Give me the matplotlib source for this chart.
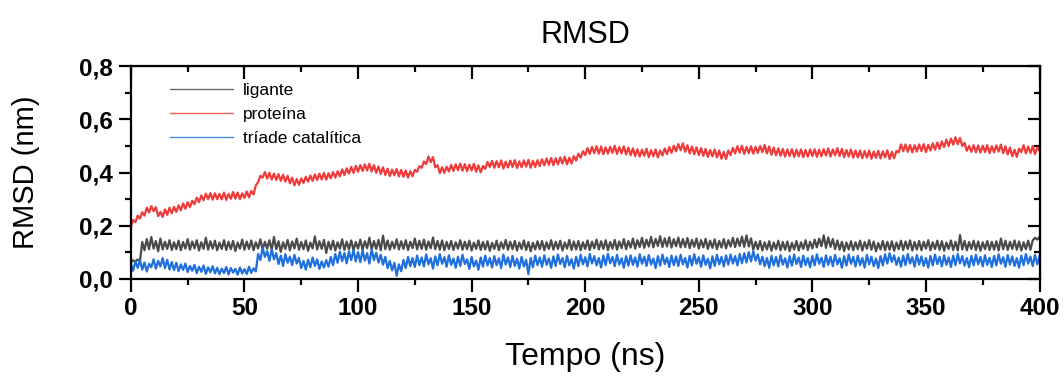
import numpy as np
import matplotlib
matplotlib.use("Agg")
import matplotlib.pyplot as plt
from matplotlib.ticker import MultipleLocator, FuncFormatter

plt.rcParams['font.family'] = ['Liberation Sans', 'DejaVu Sans']

# RMSD (nm), one value per ns (0..400 ns)
ligante = [
    0.062, 0.070, 0.066, 0.073, 0.068, 0.139, 0.108, 0.150, 0.112, 0.158, 0.114, 0.143, 0.104, 0.152, 0.111, 0.140, 0.113, 0.146, 0.109, 0.138,
    0.112, 0.144, 0.108, 0.139, 0.114, 0.150, 0.110, 0.141, 0.115, 0.146, 0.107, 0.138, 0.113, 0.155, 0.110, 0.142, 0.114, 0.144, 0.108, 0.137,
    0.113, 0.146, 0.109, 0.140, 0.112, 0.143, 0.105, 0.137, 0.114, 0.148, 0.110, 0.141, 0.113, 0.145, 0.108, 0.138, 0.115, 0.149, 0.111, 0.140,
    0.114, 0.146, 0.109, 0.158, 0.112, 0.142, 0.102, 0.138, 0.113, 0.147, 0.108, 0.141, 0.115, 0.152, 0.110, 0.139, 0.112, 0.145, 0.106, 0.137,
    0.115, 0.160, 0.111, 0.142, 0.113, 0.147, 0.098, 0.140, 0.111, 0.144, 0.107, 0.138, 0.114, 0.149, 0.109, 0.141, 0.112, 0.145, 0.108, 0.139,
    0.114, 0.148, 0.110, 0.142, 0.116, 0.155, 0.111, 0.143, 0.113, 0.147, 0.108, 0.163, 0.112, 0.145, 0.110, 0.140, 0.115, 0.149, 0.111, 0.142,
    0.113, 0.146, 0.109, 0.140, 0.116, 0.152, 0.111, 0.144, 0.113, 0.148, 0.110, 0.141, 0.115, 0.156, 0.112, 0.143, 0.110, 0.145, 0.108, 0.139,
    0.113, 0.143, 0.109, 0.138, 0.114, 0.146, 0.110, 0.140, 0.112, 0.144, 0.107, 0.137, 0.113, 0.145, 0.109, 0.139, 0.111, 0.142, 0.106, 0.136,
    0.113, 0.144, 0.108, 0.138, 0.114, 0.147, 0.110, 0.140, 0.112, 0.143, 0.107, 0.137, 0.113, 0.145, 0.109, 0.139, 0.104, 0.136, 0.111, 0.142,
    0.112, 0.143, 0.108, 0.138, 0.113, 0.146, 0.110, 0.140, 0.113, 0.144, 0.107, 0.137, 0.114, 0.147, 0.109, 0.141, 0.111, 0.143, 0.108, 0.138,
    0.113, 0.145, 0.109, 0.140, 0.115, 0.148, 0.111, 0.142, 0.113, 0.146, 0.108, 0.139, 0.114, 0.147, 0.110, 0.141, 0.116, 0.150, 0.112, 0.143,
    0.118, 0.152, 0.114, 0.146, 0.120, 0.155, 0.117, 0.148, 0.122, 0.158, 0.119, 0.151, 0.124, 0.161, 0.120, 0.153, 0.122, 0.157, 0.118, 0.150,
    0.123, 0.156, 0.119, 0.150, 0.120, 0.154, 0.116, 0.147, 0.121, 0.152, 0.114, 0.146, 0.119, 0.151, 0.113, 0.144, 0.117, 0.149, 0.112, 0.143,
    0.118, 0.150, 0.115, 0.146, 0.122, 0.155, 0.120, 0.152, 0.124, 0.159, 0.121, 0.164, 0.122, 0.153, 0.110, 0.140, 0.112, 0.143, 0.107, 0.138,
    0.111, 0.142, 0.106, 0.137, 0.112, 0.144, 0.108, 0.139, 0.110, 0.141, 0.105, 0.136, 0.111, 0.143, 0.107, 0.138, 0.113, 0.146, 0.109, 0.140,
    0.115, 0.148, 0.119, 0.152, 0.123, 0.164, 0.117, 0.156, 0.121, 0.150, 0.112, 0.145, 0.110, 0.140, 0.105, 0.137, 0.111, 0.142, 0.108, 0.138,
    0.112, 0.144, 0.107, 0.139, 0.114, 0.146, 0.110, 0.141, 0.104, 0.135, 0.111, 0.143, 0.108, 0.140, 0.110, 0.142, 0.106, 0.137, 0.112, 0.144,
    0.109, 0.141, 0.113, 0.145, 0.107, 0.139, 0.111, 0.143, 0.108, 0.140, 0.114, 0.146, 0.108, 0.138, 0.112, 0.144, 0.109, 0.142, 0.106, 0.137,
    0.113, 0.145, 0.109, 0.140, 0.107, 0.165, 0.111, 0.143, 0.108, 0.139, 0.113, 0.144, 0.109, 0.141, 0.106, 0.138, 0.112, 0.143, 0.109, 0.140,
    0.110, 0.142, 0.107, 0.152, 0.112, 0.144, 0.109, 0.140, 0.113, 0.145, 0.110, 0.141, 0.107, 0.138, 0.112, 0.144, 0.110, 0.145, 0.155, 0.148,
    0.158,
]

proteina = [
    0.196, 0.222, 0.214, 0.238, 0.227, 0.251, 0.238, 0.268, 0.250, 0.274, 0.255, 0.270, 0.236, 0.252, 0.233, 0.262, 0.241, 0.268, 0.247, 0.271,
    0.252, 0.277, 0.258, 0.284, 0.264, 0.289, 0.270, 0.294, 0.281, 0.306, 0.289, 0.314, 0.296, 0.321, 0.300, 0.323, 0.298, 0.322, 0.300, 0.320,
    0.299, 0.325, 0.297, 0.320, 0.301, 0.327, 0.302, 0.325, 0.300, 0.322, 0.305, 0.329, 0.307, 0.331, 0.318, 0.352, 0.364, 0.388, 0.381, 0.402,
    0.377, 0.399, 0.374, 0.396, 0.372, 0.394, 0.369, 0.392, 0.366, 0.388, 0.360, 0.381, 0.352, 0.376, 0.354, 0.378, 0.361, 0.384, 0.366, 0.389,
    0.369, 0.393, 0.372, 0.396, 0.374, 0.399, 0.373, 0.398, 0.378, 0.402, 0.381, 0.405, 0.386, 0.412, 0.391, 0.416, 0.396, 0.421, 0.399, 0.425,
    0.403, 0.428, 0.406, 0.431, 0.408, 0.433, 0.404, 0.428, 0.399, 0.423, 0.395, 0.420, 0.391, 0.415, 0.387, 0.411, 0.390, 0.414, 0.386, 0.410,
    0.384, 0.408, 0.381, 0.405, 0.386, 0.410, 0.403, 0.424, 0.418, 0.442, 0.432, 0.460, 0.439, 0.458, 0.420, 0.428, 0.398, 0.420, 0.399, 0.422,
    0.404, 0.429, 0.406, 0.431, 0.409, 0.434, 0.407, 0.432, 0.405, 0.430, 0.408, 0.433, 0.403, 0.427, 0.401, 0.425, 0.414, 0.440, 0.421, 0.444,
    0.418, 0.443, 0.420, 0.446, 0.415, 0.441, 0.419, 0.445, 0.421, 0.447, 0.417, 0.442, 0.420, 0.446, 0.422, 0.448, 0.418, 0.444, 0.421, 0.447,
    0.424, 0.450, 0.427, 0.453, 0.429, 0.455, 0.428, 0.454, 0.431, 0.457, 0.434, 0.460, 0.431, 0.456, 0.434, 0.462, 0.445, 0.471, 0.456, 0.480,
    0.466, 0.492, 0.470, 0.497, 0.473, 0.499, 0.471, 0.498, 0.469, 0.495, 0.471, 0.497, 0.474, 0.501, 0.470, 0.496, 0.472, 0.499, 0.468, 0.494,
    0.465, 0.491, 0.462, 0.488, 0.460, 0.486, 0.463, 0.490, 0.458, 0.484, 0.461, 0.487, 0.457, 0.483, 0.464, 0.491, 0.469, 0.496, 0.474, 0.501,
    0.480, 0.507, 0.484, 0.510, 0.478, 0.503, 0.472, 0.498, 0.469, 0.495, 0.466, 0.492, 0.463, 0.489, 0.459, 0.485, 0.461, 0.487, 0.457, 0.483,
    0.452, 0.478, 0.451, 0.483, 0.466, 0.493, 0.472, 0.499, 0.475, 0.501, 0.470, 0.497, 0.473, 0.499, 0.471, 0.497, 0.474, 0.500, 0.477, 0.504,
    0.472, 0.498, 0.467, 0.494, 0.465, 0.491, 0.463, 0.489, 0.460, 0.487, 0.462, 0.488, 0.459, 0.486, 0.461, 0.487, 0.458, 0.485, 0.460, 0.487,
    0.462, 0.488, 0.459, 0.486, 0.461, 0.488, 0.464, 0.491, 0.460, 0.487, 0.465, 0.492, 0.462, 0.489, 0.458, 0.485, 0.460, 0.487, 0.456, 0.483,
    0.457, 0.483, 0.454, 0.481, 0.456, 0.483, 0.452, 0.479, 0.455, 0.482, 0.453, 0.480, 0.457, 0.484, 0.451, 0.478, 0.454, 0.481, 0.476, 0.506,
    0.480, 0.506, 0.478, 0.504, 0.476, 0.503, 0.479, 0.506, 0.481, 0.507, 0.477, 0.504, 0.483, 0.510, 0.486, 0.513, 0.489, 0.517, 0.496, 0.524,
    0.500, 0.528, 0.505, 0.533, 0.507, 0.530, 0.500, 0.512, 0.482, 0.500, 0.478, 0.503, 0.476, 0.502, 0.475, 0.501, 0.477, 0.503, 0.473, 0.499,
    0.476, 0.502, 0.479, 0.505, 0.473, 0.499, 0.468, 0.494, 0.461, 0.486, 0.459, 0.490, 0.477, 0.503, 0.472, 0.498, 0.474, 0.500, 0.469, 0.495,
    0.482,
]

triade = [
    0.058, 0.031, 0.066, 0.042, 0.071, 0.035, 0.062, 0.028, 0.057, 0.044, 0.074, 0.039, 0.068, 0.047, 0.079, 0.041, 0.072, 0.036, 0.064, 0.033,
    0.061, 0.029, 0.055, 0.034, 0.058, 0.026, 0.049, 0.031, 0.053, 0.022, 0.046, 0.027, 0.051, 0.019, 0.044, 0.025, 0.048, 0.021, 0.042, 0.018,
    0.039, 0.022, 0.045, 0.017, 0.041, 0.024, 0.038, 0.016, 0.043, 0.021, 0.037, 0.019, 0.046, 0.023, 0.040, 0.028, 0.094, 0.071, 0.118, 0.083,
    0.105, 0.068, 0.112, 0.074, 0.097, 0.056, 0.088, 0.049, 0.093, 0.061, 0.084, 0.052, 0.091, 0.058, 0.079, 0.041, 0.068, 0.035, 0.072, 0.044,
    0.081, 0.049, 0.074, 0.038, 0.066, 0.043, 0.071, 0.046, 0.083, 0.052, 0.094, 0.061, 0.102, 0.067, 0.098, 0.059, 0.104, 0.071, 0.109, 0.066,
    0.101, 0.063, 0.108, 0.069, 0.097, 0.058, 0.112, 0.071, 0.099, 0.062, 0.091, 0.054, 0.083, 0.041, 0.068, 0.032, 0.061, 0.012, 0.055, 0.029,
    0.072, 0.041, 0.083, 0.048, 0.079, 0.045, 0.088, 0.052, 0.081, 0.047, 0.092, 0.055, 0.078, 0.039, 0.085, 0.051, 0.094, 0.057, 0.082, 0.046,
    0.089, 0.053, 0.077, 0.042, 0.084, 0.049, 0.091, 0.056, 0.074, 0.038, 0.083, 0.047, 0.069, 0.035, 0.081, 0.046, 0.088, 0.051, 0.079, 0.043,
    0.086, 0.052, 0.078, 0.041, 0.092, 0.054, 0.081, 0.045, 0.087, 0.049, 0.076, 0.039, 0.083, 0.047, 0.072, 0.018, 0.079, 0.044, 0.088, 0.052,
    0.081, 0.046, 0.089, 0.053, 0.077, 0.042, 0.085, 0.049, 0.092, 0.056, 0.079, 0.044, 0.087, 0.051, 0.075, 0.039, 0.084, 0.048, 0.091, 0.055,
    0.082, 0.047, 0.094, 0.058, 0.086, 0.051, 0.079, 0.043, 0.088, 0.052, 0.095, 0.059, 0.083, 0.048, 0.091, 0.054, 0.078, 0.042, 0.086, 0.050,
    0.089, 0.053, 0.081, 0.046, 0.093, 0.057, 0.084, 0.049, 0.090, 0.054, 0.077, 0.041, 0.086, 0.050, 0.092, 0.056, 0.080, 0.045, 0.088, 0.052,
    0.085, 0.049, 0.091, 0.055, 0.079, 0.043, 0.087, 0.051, 0.093, 0.057, 0.082, 0.046, 0.089, 0.053, 0.076, 0.040, 0.085, 0.049, 0.091, 0.055,
    0.083, 0.047, 0.089, 0.054, 0.092, 0.058, 0.086, 0.051, 0.094, 0.059, 0.097, 0.062, 0.101, 0.066, 0.104, 0.069, 0.092, 0.055, 0.084, 0.048,
    0.079, 0.042, 0.087, 0.051, 0.083, 0.047, 0.090, 0.054, 0.078, 0.043, 0.086, 0.050, 0.092, 0.056, 0.081, 0.045, 0.088, 0.052, 0.079, 0.044,
    0.087, 0.051, 0.093, 0.057, 0.080, 0.045, 0.089, 0.053, 0.084, 0.048, 0.091, 0.055, 0.078, 0.042, 0.086, 0.050, 0.092, 0.057, 0.083, 0.047,
    0.088, 0.052, 0.079, 0.043, 0.090, 0.055, 0.084, 0.048, 0.077, 0.041, 0.086, 0.051, 0.093, 0.058, 0.097, 0.064, 0.089, 0.053, 0.081, 0.046,
    0.088, 0.052, 0.094, 0.058, 0.082, 0.046, 0.090, 0.054, 0.085, 0.049, 0.079, 0.043, 0.087, 0.051, 0.092, 0.056, 0.083, 0.047, 0.089, 0.053,
    0.081, 0.045, 0.088, 0.052, 0.094, 0.058, 0.086, 0.050, 0.079, 0.044, 0.087, 0.051, 0.091, 0.055, 0.083, 0.047, 0.089, 0.053, 0.080, 0.045,
    0.087, 0.051, 0.093, 0.057, 0.082, 0.046, 0.090, 0.054, 0.085, 0.049, 0.078, 0.043, 0.088, 0.052, 0.094, 0.058, 0.084, 0.048, 0.091, 0.055,
    0.086,
]

series = [
    ("ligante", ligante, "#4a4a4a"),
    ("proteína", proteina, "#ef3b3b"),
    ("tríade catalítica", triade, "#1f6fdc"),
]

fig = plt.figure(figsize=(10.64, 3.76), dpi=100)
ax = fig.add_axes([0.123, 0.258, 0.854, 0.566])

for name, vals, color in series:
    t = np.arange(len(vals))  # 1 ns per sample
    ax.plot(t, vals, color=color, lw=1.6, label=name)

ax.set_xlim(0, 400)
ax.set_ylim(0, 0.8)
ax.xaxis.set_major_locator(MultipleLocator(50))
ax.xaxis.set_minor_locator(MultipleLocator(25))
ax.yaxis.set_major_locator(MultipleLocator(0.2))
ax.yaxis.set_minor_locator(MultipleLocator(0.1))
ax.yaxis.set_major_formatter(FuncFormatter(lambda v, p: f"{v:.1f}".replace(".", ",")))

for s in ax.spines.values():
    s.set_linewidth(1.6)
ax.tick_params(which="major", direction="out", length=9, width=1.6, labelsize=17.5, pad=4)
ax.tick_params(which="minor", direction="out", length=4.5, width=1.6)
for lab in ax.get_xticklabels() + ax.get_yticklabels():
    lab.set_fontweight("bold")

# mirrored inward ticks on top and right
top = ax.secondary_xaxis("top")
top.xaxis.set_major_locator(MultipleLocator(50))
top.xaxis.set_minor_locator(MultipleLocator(25))
top.tick_params(which="major", direction="in", length=9, width=1.6, labeltop=False)
top.tick_params(which="minor", direction="in", length=4.5, width=1.6)
right = ax.secondary_yaxis("right")
right.yaxis.set_major_locator(MultipleLocator(0.2))
right.yaxis.set_minor_locator(MultipleLocator(0.1))
right.tick_params(which="major", direction="in", length=9, width=1.6, labelright=False)
right.tick_params(which="minor", direction="in", length=4.5, width=1.6)

ax.set_title("RMSD", fontsize=22, pad=17)
ax.set_xlabel("Tempo (ns)", fontsize=23, labelpad=16)
ax.set_ylabel("RMSD (nm)", fontsize=21, labelpad=28)

leg = ax.legend(loc="upper left", bbox_to_anchor=(0.026, 0.997), frameon=False,
                fontsize=12.5, handlelength=3.6, handletextpad=0.6, labelspacing=0.52)
for h in leg.get_lines():
    h.set_linewidth(1.0)
    h.set_alpha(0.8)

fig.savefig("out.png", dpi=100)
